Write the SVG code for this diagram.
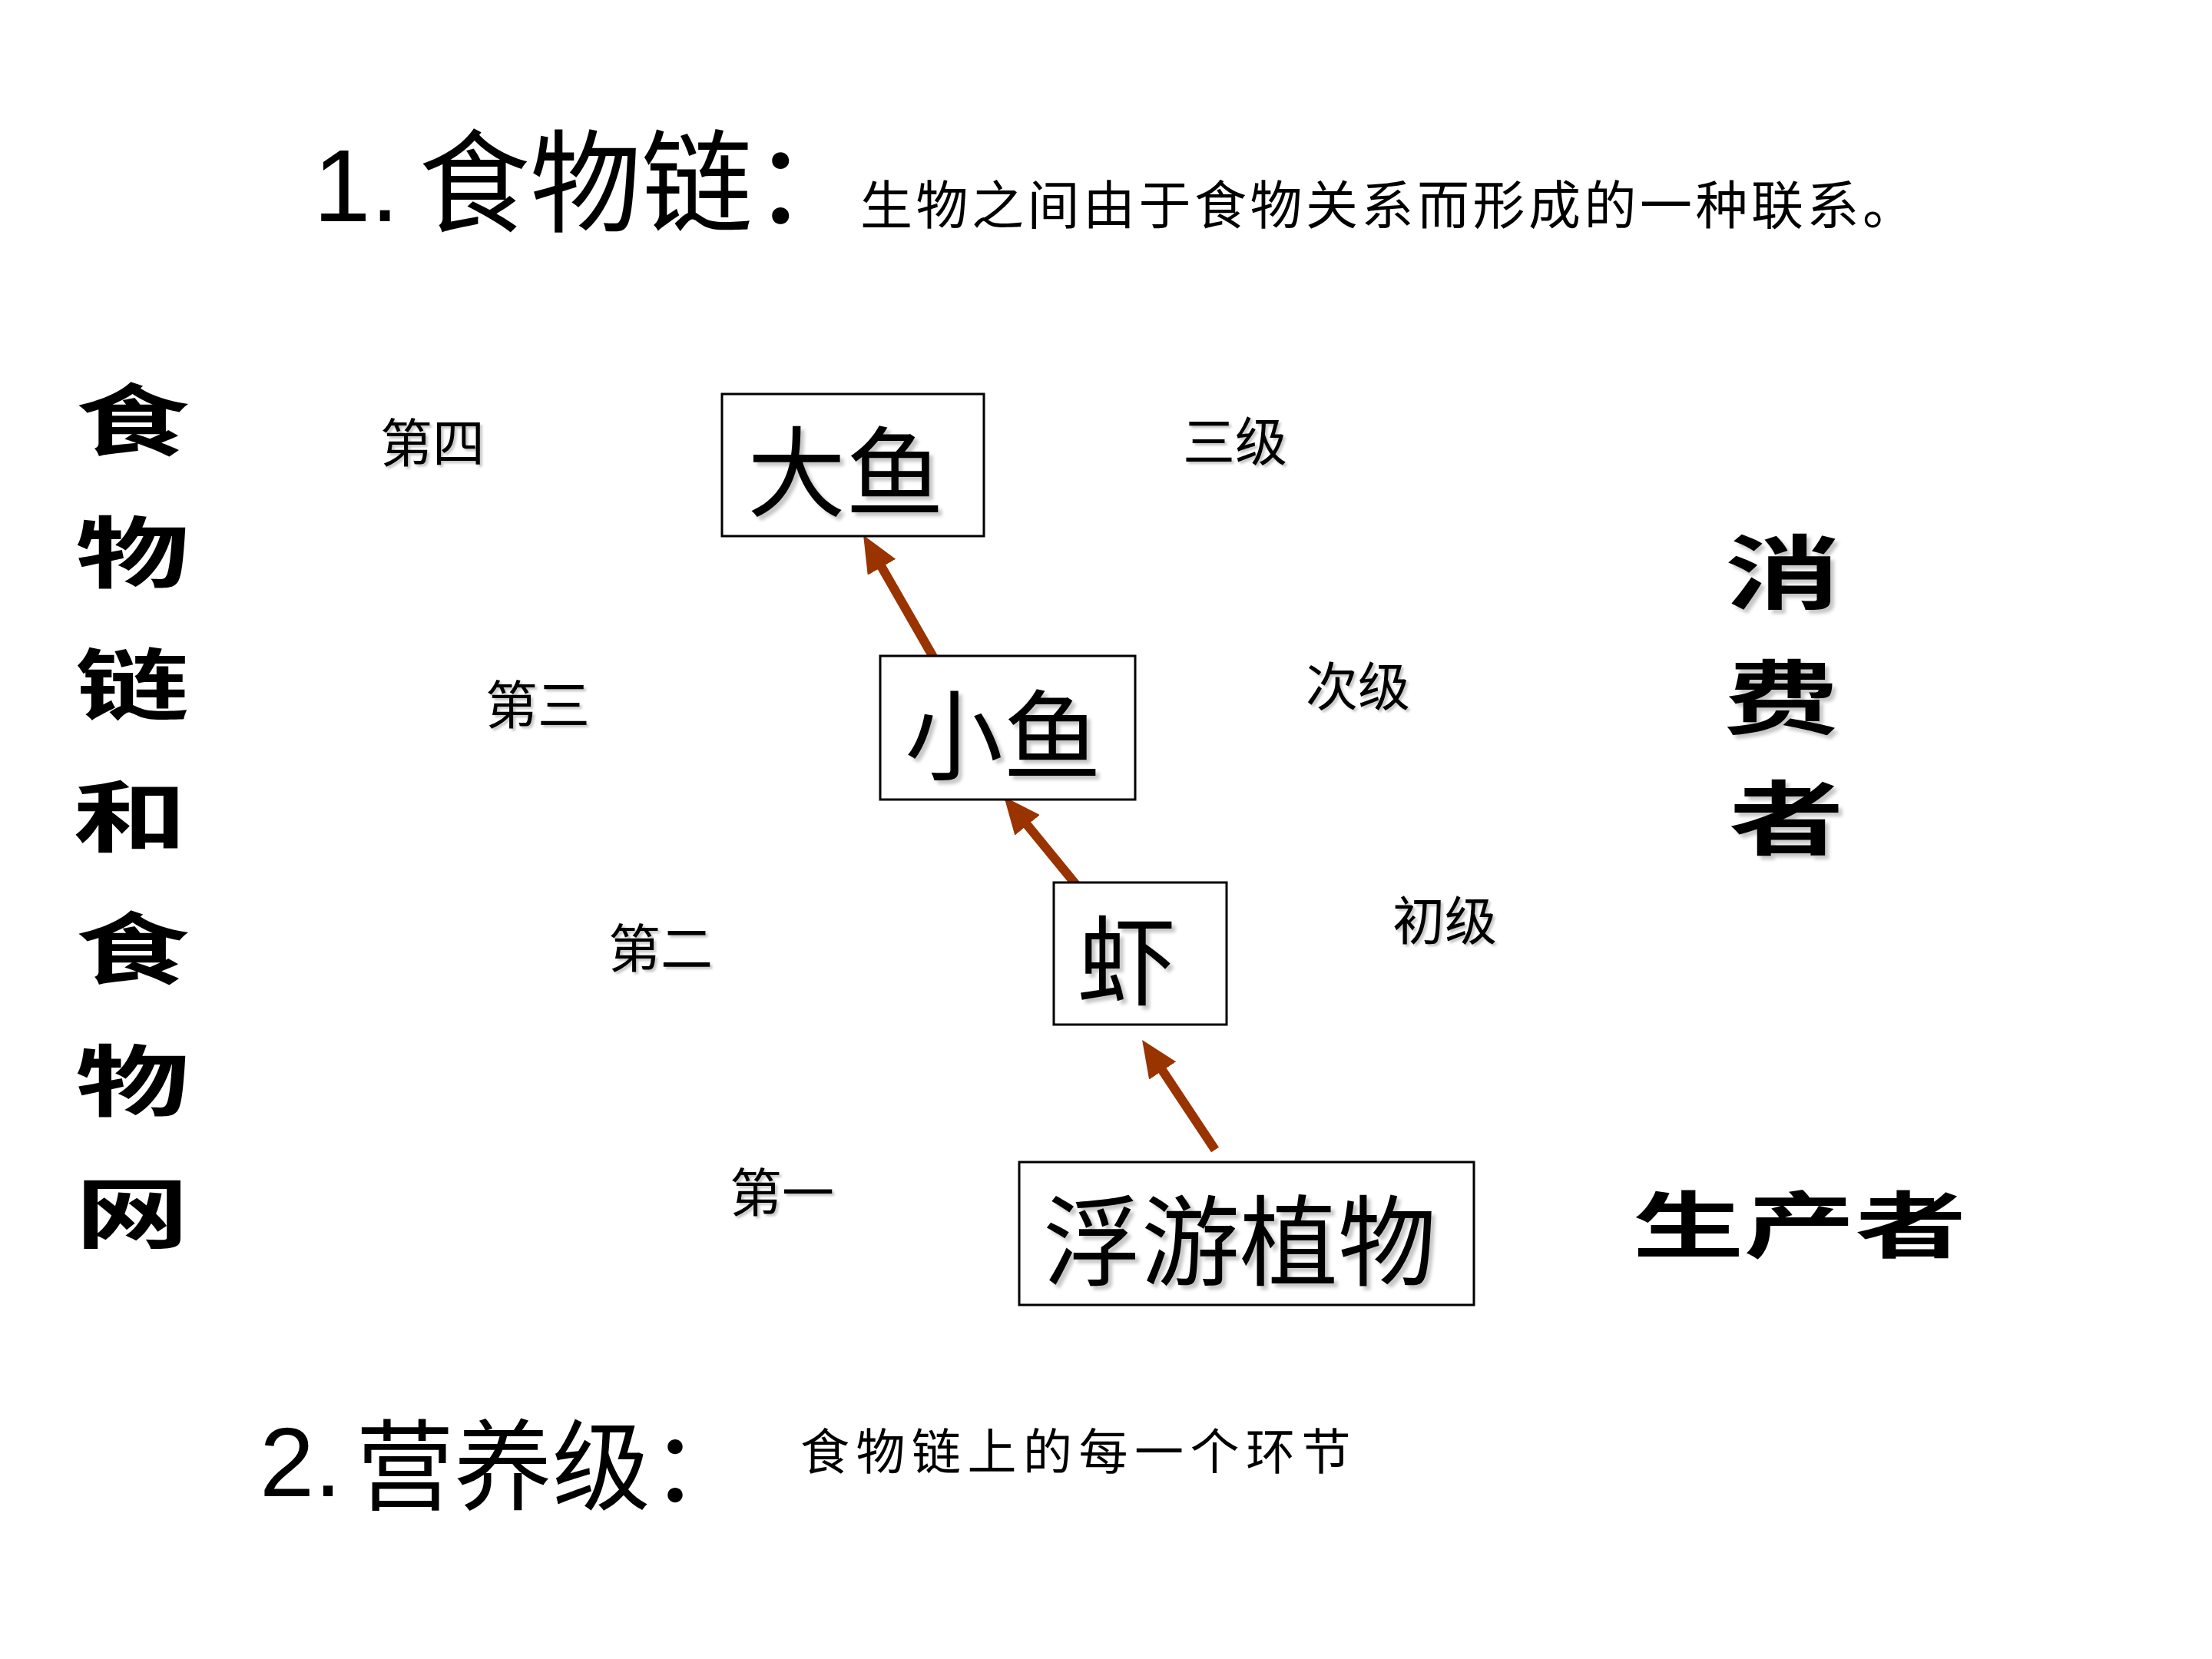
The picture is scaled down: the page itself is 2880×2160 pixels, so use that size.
<svg xmlns="http://www.w3.org/2000/svg" width="2880" height="2160" viewBox="0 0 2880 2160">
<style>
.sans{font-family:"Noto Sans CJK SC","Liberation Sans",sans-serif;fill:#000}
.lat{font-family:"Liberation Sans","Noto Sans CJK SC",sans-serif;fill:#000}
.node{font-family:"Liberation Serif","Noto Sans CJK SC",serif;font-size:128px;fill:#000;text-anchor:middle}
.lvl{font-family:"Liberation Serif","Noto Sans CJK SC",serif;font-size:68px;fill:#000;text-anchor:middle}
.big{font-family:"Noto Sans CJK SC",sans-serif;font-weight:bold;fill:#000;text-anchor:middle}
.box{fill:#fff;stroke:#000;stroke-width:3}
.arr{stroke:#993300;stroke-width:12;fill:none;marker-end:url(#ah)}
</style>
<defs>
<marker id="ah" markerUnits="userSpaceOnUse" markerWidth="48" markerHeight="42" viewBox="0 0 48 42" refX="12" refY="21" orient="auto">
<path d="M0,0 L48,21 L0,42 z" fill="#993300"/>
</marker>
<filter id="sh" x="-10%" y="-10%" width="130%" height="130%">
<feDropShadow dx="5" dy="5" stdDeviation="2" flood-color="#000" flood-opacity="0.22"/>
</filter>
<filter id="shs" x="-10%" y="-10%" width="130%" height="130%">
<feDropShadow dx="3" dy="3" stdDeviation="1.5" flood-color="#000" flood-opacity="0.22"/>
</filter>
</defs>
<rect width="2880" height="2160" fill="#fff"/>

<g id="title1">
<text class="lat" x="408" y="288" font-size="134">1.</text>
<text class="sans" x="545" y="291" font-size="145">食物链：</text>
<text class="sans" x="1120" y="292" font-size="68" letter-spacing="4.5">生物之间由于食物关系而形成的一种联系。</text>
</g>

<g id="title2">
<text class="lat" x="338" y="1948" font-size="128">2.</text>
<text class="sans" x="463" y="1956" font-size="128">营养级：</text>
<text class="sans" x="1042" y="1913" font-size="64" letter-spacing="8.5">食物链上的每一个环节</text>
</g>

<g id="left-label">
<text class="big" font-size="148" transform="scale(1,0.68)">
<tspan x="189" y="860.3">食</tspan>
<tspan x="189" y="1113.2">物</tspan>
<tspan x="189" y="1366.2">链</tspan>
<tspan x="186" y="1619.1">和</tspan>
<tspan x="189" y="1872.1">食</tspan>
<tspan x="189" y="2125">物</tspan>
<tspan x="172" y="2377.9">网</tspan>
</text>
</g>

<g id="consumer-label" filter="url(#sh)">
<text class="big" font-size="150" transform="scale(1,0.7)">
<tspan x="2338" y="1120">消</tspan>
<tspan x="2336" y="1352.9">费</tspan>
<tspan x="2326" y="1577.1">者</tspan>
</text>
</g>

<g id="producer-label">
<text class="big" font-size="145" transform="scale(1,0.65)" x="2343" y="2507.7">生产者</text>
</g>

<g id="levels" filter="url(#shs)">
<text class="lvl" x="563" y="602">第四</text>
<text class="lvl" x="1608" y="600">三级</text>
<text class="lvl" x="700" y="943">第三</text>
<text class="lvl" x="1768" y="919">次级</text>
<text class="lvl" x="860" y="1260">第二</text>
<text class="lvl" x="1881" y="1224">初级</text>
<text class="lvl" x="1018" y="1578">第一</text>
</g>

<g id="connectors">
<line class="arr" x1="1220" y1="864" x2="1142" y2="728"/>
<line class="arr" x1="1402" y1="1153" x2="1330" y2="1065"/>
<line class="arr" x1="1582" y1="1497" x2="1507" y2="1384"/>
</g>

<g id="node-bigfish">
<rect class="box" x="940" y="513" width="341" height="185"/>
<text class="node" x="1101" y="663" filter="url(#sh)">大鱼</text>
</g>
<g id="node-smallfish">
<rect class="box" x="1146" y="854" width="332" height="187"/>
<text class="node" x="1306" y="1006" filter="url(#sh)">小鱼</text>
</g>
<g id="node-shrimp">
<rect class="box" x="1372" y="1149" width="225" height="185"/>
<text class="node" x="1467" y="1299" filter="url(#sh)">虾</text>
</g>
<g id="node-plankton">
<rect class="box" x="1327" y="1513" width="592" height="186"/>
<text class="node" x="1614" y="1664" filter="url(#sh)">浮游植物</text>
</g>
</svg>
